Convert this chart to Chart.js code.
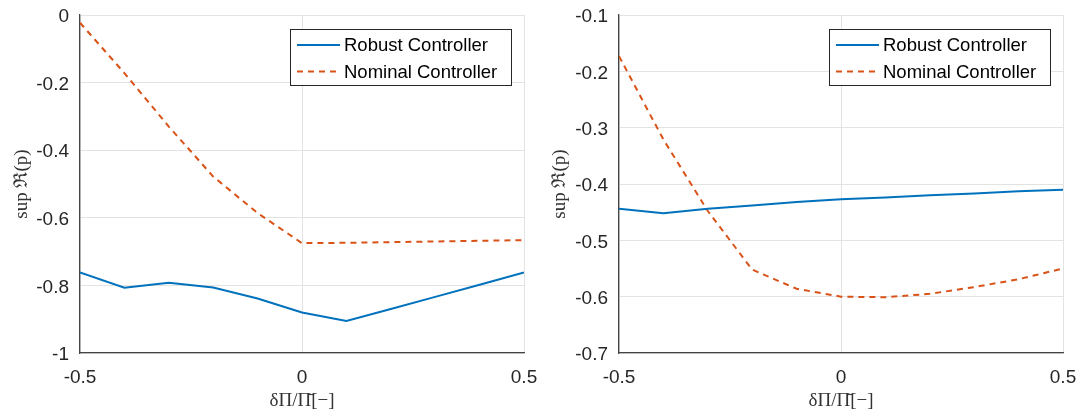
<!DOCTYPE html>
<html>
<head>
<meta charset="utf-8">
<script src="https://cdn.jsdelivr.net/npm/chart.js@4.4.1/dist/chart.umd.min.js"></script>
<style>
  body { margin: 0; background: #fff; }
  #wrap { position: relative; width: 1077px; height: 413px; background: #fff; }
  .pane { position: absolute; top: 0; height: 413px; }
</style>
</head>
<body>
<div id="wrap">
  <div class="pane" style="left:0;width:538px"><canvas id="chartLeft" width="538" height="413"></canvas></div>
  <div class="pane" style="left:538px;width:539px"><canvas id="chartRight" width="539" height="413"></canvas></div>
</div>
<script>
// x positions (δΠ/Π̄)
const xVals = [-0.5, -0.4, -0.3, -0.2, -0.1, 0, 0.1, 0.2, 0.3, 0.4, 0.5];

// left panel
const leftRobust  = [-0.762, -0.807, -0.792, -0.806, -0.839, -0.880, -0.905, -0.870, -0.834, -0.798, -0.762];
const leftNominal = [-0.023, -0.172, -0.330, -0.478, -0.586, -0.675, -0.674, -0.672, -0.670, -0.668, -0.666];

// right panel
const rightRobust  = [-0.444, -0.452, -0.444, -0.438, -0.432, -0.427, -0.424, -0.420, -0.417, -0.413, -0.410];
const rightNominal = [-0.173, -0.321, -0.448, -0.552, -0.586, -0.600, -0.601, -0.595, -0.583, -0.569, -0.550];

// ticks
const xTicks = [-0.5, 0, 0.5];
const xTickLabels = ['-0.5', '0', '0.5'];
const leftYTicks = [0, -0.2, -0.4, -0.6, -0.8, -1];
const leftYLabels = ['0', '-0.2', '-0.4', '-0.6', '-0.8', '-1'];
const rightYTicks = [-0.1, -0.2, -0.3, -0.4, -0.5, -0.6, -0.7];
const rightYLabels = ['-0.1', '-0.2', '-0.3', '-0.4', '-0.5', '-0.6', '-0.7'];

const seriesNames = ['Robust Controller', 'Nominal Controller'];
const xTitle = 'δΠ/Π̄[−]';
const yTitle = 'sup ℜ(p)';

const blue = '#0072BD';
const orange = '#D95319';
const gridColor = '#e3e3e3';
const tickColor = '#262626';
const tickFont = { family: '"Liberation Sans", Arial, sans-serif', size: 19 };
const titleFont = { family: '"Liberation Serif", "DejaVu Serif", serif', size: 19 };

// MATLAB style legend box inside the plot, top right
const boxLegend = {
  id: 'boxLegend',
  afterDatasetsDraw(chart) {
    const { ctx, chartArea } = chart;
    const w = 221, h = 56;
    const x0 = Math.round(chartArea.right - 13 - w), y0 = Math.round(chartArea.top + 14);
    ctx.save();
    ctx.fillStyle = '#fff';
    ctx.fillRect(x0, y0, w, h);
    ctx.strokeStyle = '#262626';
    ctx.lineWidth = 1;
    ctx.strokeRect(x0 + 0.5, y0 + 0.5, w, h);
    chart.data.datasets.forEach((ds, i) => {
      const y = y0 + 16 + i * 26.5;
      ctx.strokeStyle = ds.borderColor;
      ctx.lineWidth = ds.borderWidth;
      ctx.setLineDash(ds.borderDash || []);
      ctx.beginPath();
      ctx.moveTo(x0 + 7, y);
      ctx.lineTo(x0 + 50, y);
      ctx.stroke();
      ctx.setLineDash([]);
      ctx.fillStyle = '#000';
      ctx.font = '18.5px "Liberation Sans", Arial, sans-serif';
      ctx.textBaseline = 'middle';
      ctx.fillText(ds.label, x0 + 54, y + 1);
    });
    ctx.restore();
  }
};

function makeChart(id, robust, nominal, yTicks, yLabels, axisW, padRight) {
  const yMin = Math.min(...yTicks), yMax = Math.max(...yTicks);
  return new Chart(document.getElementById(id), {
    type: 'line',
    data: {
      datasets: [
        { label: seriesNames[0], data: xVals.map((x, i) => ({ x, y: robust[i] })), borderColor: blue, borderWidth: 2, pointRadius: 0, tension: 0, fill: false },
        { label: seriesNames[1], data: xVals.map((x, i) => ({ x, y: nominal[i] })), borderColor: orange, borderWidth: 2, borderDash: [6, 5], pointRadius: 0, tension: 0, fill: false },
      ]
    },
    options: {
      responsive: false,
      animation: false,
      layout: { padding: { top: 15, right: padRight, left: 0, bottom: 0 } },
      plugins: { legend: { display: false }, tooltip: { enabled: false } },
      scales: {
        x: {
          type: 'linear', min: -0.5, max: 0.5,
          afterBuildTicks: s => { s.ticks = xTicks.map(v => ({ value: v })); },
          afterFit: s => { s.height = 60; s.paddingLeft = 0; s.paddingRight = 0; },
          ticks: { color: tickColor, font: tickFont, padding: 13, maxRotation: 0, callback: (v) => xTickLabels[xTicks.indexOf(v)] },
          grid: { color: gridColor, drawTicks: false },
          border: { color: '#444', width: 1.3 },
          title: { display: true, text: xTitle, color: '#333', font: titleFont, padding: { top: 0, bottom: 1 } }
        },
        y: {
          type: 'linear', min: yMin, max: yMax,
          afterBuildTicks: s => { s.ticks = yTicks.map(v => ({ value: v })); },
          afterFit: s => { s.width = axisW; s.paddingTop = 0; s.paddingBottom = 0; },
          ticks: { color: tickColor, font: tickFont, padding: 11, labelOffset: 2, callback: (v) => yLabels[yTicks.indexOf(v)] },
          grid: { color: gridColor, drawTicks: false },
          border: { color: '#444', width: 1.3 },
          title: { display: true, text: yTitle, color: '#333', font: titleFont, padding: { top: 11, bottom: 0 } }
        }
      }
    },
    plugins: [boxLegend]
  });
}

makeChart('chartLeft', leftRobust, leftNominal, leftYTicks, leftYLabels, 80, 14);
makeChart('chartRight', rightRobust, rightNominal, rightYTicks, rightYLabels, 81, 14);
</script>
</body>
</html>
